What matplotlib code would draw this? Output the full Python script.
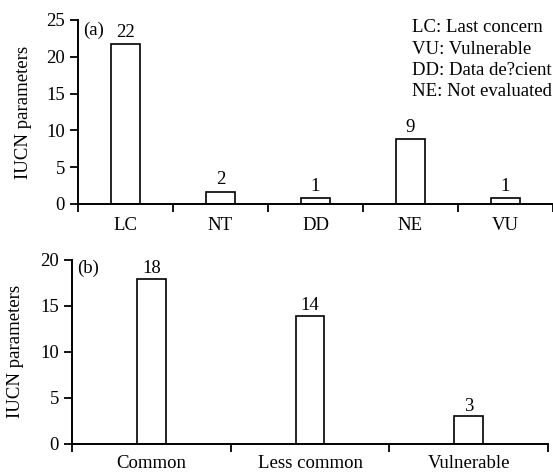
import matplotlib
matplotlib.use("Agg")
import matplotlib.pyplot as plt
import numpy as np

plt.rcParams['font.family'] = ['Liberation Serif', 'DejaVu Serif']
plt.rcParams['font.size'] = 13.5

# Panel (a)
a_categories = ["LC", "NT", "DD", "NE", "VU"]
a_heights = [21.8, 1.6, 0.8, 8.8, 0.8]
a_counts = [22, 2, 1, 9, 1]
a_yticks = [0, 5, 10, 15, 20, 25]
legend_lines = ["LC: Last concern", "VU: Vulnerable", "DD: Data de?cient", "NE: Not evaluated"]

# Panel (b)
b_categories = ["Common", "Less common", "Vulnerable"]
b_heights = [17.9, 13.95, 3.0]
b_counts = [18, 14, 3]
b_yticks = [0, 5, 10, 15, 20]

ylabel = "IUCN parameters"

W, H = 553, 472
fig = plt.figure(figsize=(W / 100, H / 100), dpi=100)

def px_axes(l, r, b, t):
    return fig.add_axes([l / W, 1 - b / H, (r - l) / W, (b - t) / H])

ax1 = px_axes(78, 553, 204, 20)
ax2 = px_axes(72, 548, 443.7, 260)

def style(ax, cats, heights, counts, yticks, width, tag, tagpos, xpad):
    x = np.arange(len(cats))
    ax.bar(x, heights, width=width, color="white", edgecolor="black", linewidth=1.2)
    for xi, c in zip(x, counts):
        ax.annotate(str(c), (xi, c), xytext=(0, 4), textcoords="offset points",
                    ha="center", va="baseline", fontsize=13.5)
    ax.set_xlim(-0.5, len(cats) - 0.5)
    ax.set_ylim(0, yticks[-1])
    ax.set_yticks(yticks)
    ax.set_xticks(x)
    ax.set_xticklabels(cats)
    ax.set_xticks(np.arange(len(cats) + 1) - 0.5, minor=True)
    ax.tick_params(axis="x", which="major", length=0, pad=xpad)
    ax.tick_params(axis="x", which="minor", length=5.5, width=1.3, direction="out")
    ax.tick_params(axis="y", which="major", length=5.5, width=1.3, direction="out", pad=4)
    for s in ["top", "right"]:
        ax.spines[s].set_visible(False)
    for s in ["left", "bottom"]:
        ax.spines[s].set_linewidth(1.4)
    ax.set_ylabel(ylabel, fontsize=13.5)
    ax.text(tagpos[0], tagpos[1], tag, transform=ax.transAxes, ha="left", va="center", fontsize=13.5)

style(ax1, a_categories, a_heights, a_counts, a_yticks, 0.3, "(a)", (0.011, 0.946), 9)
style(ax2, b_categories, b_heights, b_counts, b_yticks, 0.18, "(b)", (0.011, 0.956), 8)
ax1.yaxis.set_label_coords((32 - 78) / 475, 0.5)
ax2.yaxis.set_label_coords((24 - 72) / 476, 0.5)

for i, line in enumerate(legend_lines):
    fig.text(412 / W, 1 - (28 + i * 21.2) / H, line, ha="left", va="center", fontsize=13.5)

fig.savefig("out.png", dpi=100)
